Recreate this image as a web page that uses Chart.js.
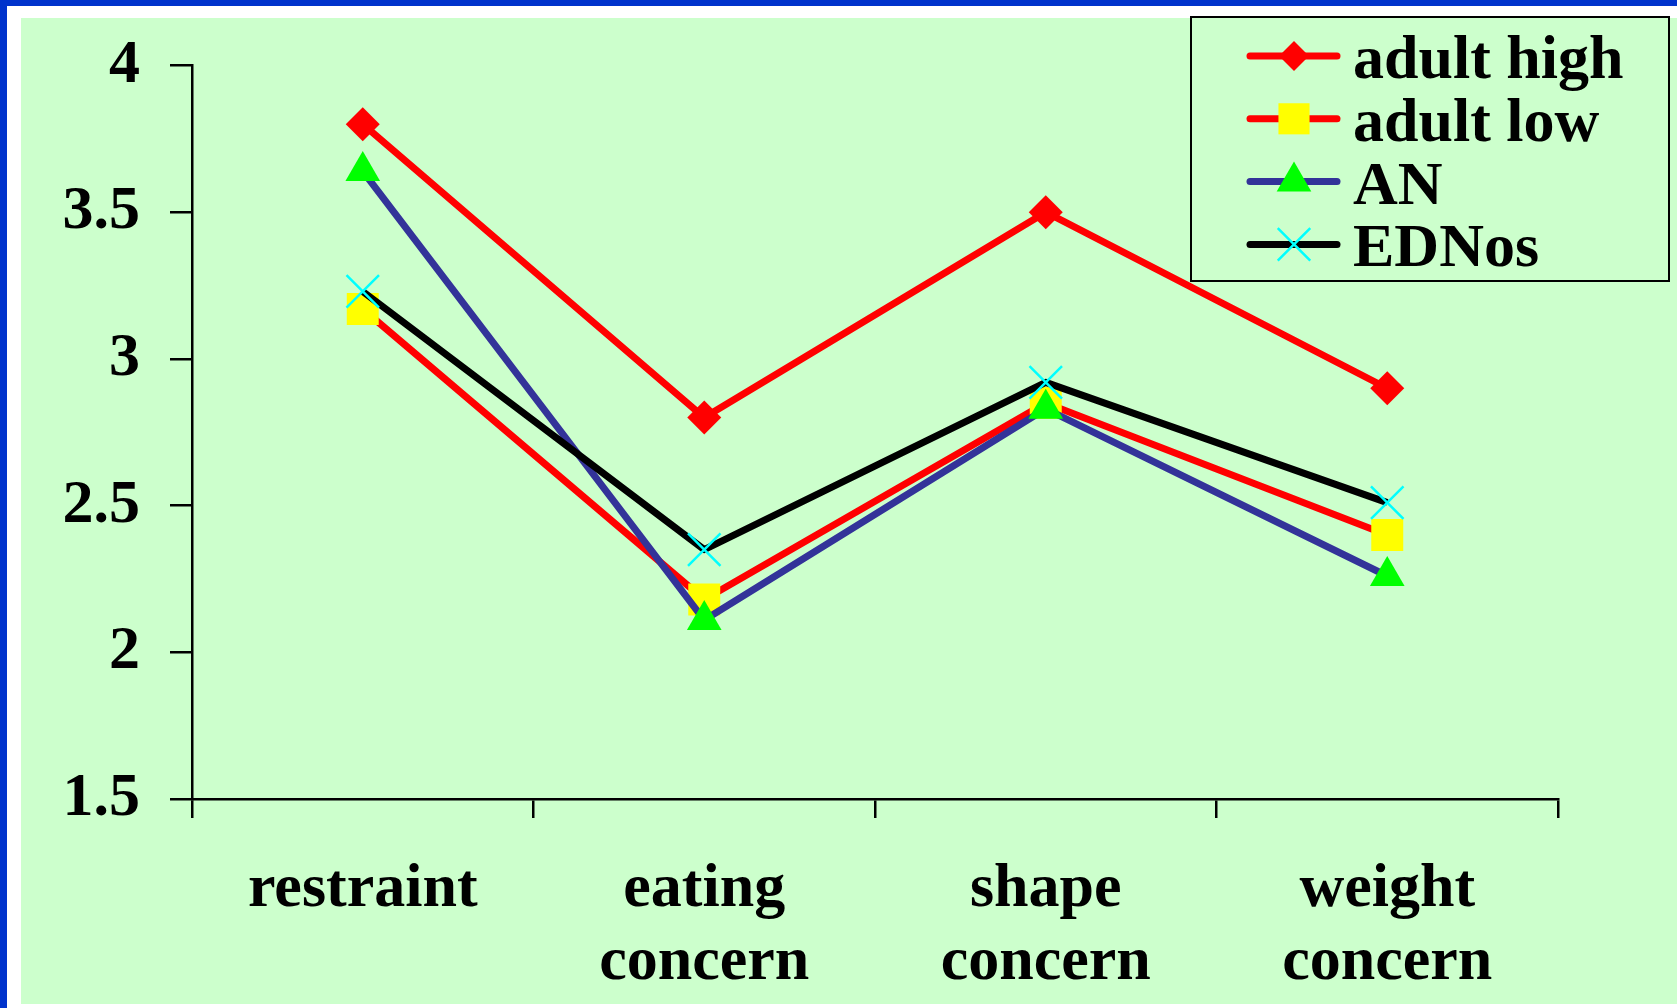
<!DOCTYPE html>
<html>
<head>
<meta charset="utf-8">
<script src="https://cdn.jsdelivr.net/npm/chart.js@4.4.0/dist/chart.umd.min.js"></script>
<style>
  html, body { margin: 0; padding: 0; }
  body { width: 1677px; height: 1008px; background: #0033cc; position: relative; overflow: hidden; }
  #frame { position: absolute; left: 7px; top: 6px; right: 0; bottom: 0; background: #ffffff; }
  #panel { position: absolute; left: 21px; top: 18px; right: 0; bottom: 4px; background: #ccffcc; }
  #wrap  { position: absolute; left: 0; top: 0; width: 1677px; height: 1008px; }
</style>
</head>
<body>
<div id="frame"></div>
<div id="panel"></div>
<div id="wrap"><canvas id="chart" width="1677" height="1008"></canvas></div>
<script>
// EDE-Q subscale means by group

const CATEGORIES = ['restraint', ['eating', 'concern'], ['shape', 'concern'], ['weight', 'concern']];
const SERIES_NAMES = ['adult high', 'adult low', 'AN', 'EDNos'];

const ADULT_HIGH = [3.80, 2.80, 3.50, 2.90];
const ADULT_LOW  = [3.17, 2.18, 2.85, 2.40];
const AN_VALUES  = [3.64, 2.11, 2.83, 2.26];
const EDNOS      = [3.23, 2.35, 2.92, 2.51];

const Y_MIN = 1.5;
const Y_MAX = 4;
const Y_STEP = 0.5;

const FAMILY = '"Liberation Serif", "Times New Roman", serif';
const FONT = 'bold 62px ' + FAMILY;
const X_FONT = { family: FAMILY, size: 62, weight: 'bold', lineHeight: 73 / 62 };
const Y_FONT = { family: FAMILY, size: 62, weight: 'bold', lineHeight: 71 / 62 };

// ── Datasets ─────────────────────────────────────────────────────────────────
// lower `order` draws on top, so the last series (EDNos) sits above the rest

function makeSeries(label, data, line, marker, style, radius, order, legendRadius) {
  const isCross = style === 'crossRot';
  return {
    label,
    data,
    borderColor:          line,
    backgroundColor:      line,
    borderWidth:          7,
    borderJoinStyle:      'round',
    tension:              0,
    fill:                 false,
    pointStyle:           style,
    pointRadius:          radius,
    pointHoverRadius:     radius,
    pointBackgroundColor: marker,
    pointBorderColor:     marker,
    pointBorderWidth:     isCross ? 2.5 : 0,
    order,
    legendRadius
  };
}

const datasets = [
  makeSeries(SERIES_NAMES[0], ADULT_HIGH, '#ff0000', '#ff0000', 'rectRot',  17,   4, 15),
  makeSeries(SERIES_NAMES[1], ADULT_LOW,  '#ff0000', '#ffff00', 'rect',     22.6, 3, 22),
  makeSeries(SERIES_NAMES[2], AN_VALUES,  '#333399', '#00ff00', 'triangle', 20,   2, 20),
  makeSeries(SERIES_NAMES[3], EDNOS,      '#000000', '#00ffff', 'crossRot', 23,   1, 23)
];

// ── Boxed legend (line + marker, like the spreadsheet original) ─────────────

const boxLegend = {
  id: 'boxLegend',
  afterDraw(chart) {
    const ctx = chart.ctx;
    ctx.save();
    ctx.fillStyle = '#ccffcc';
    ctx.fillRect(1191, 17, 478, 264);
    ctx.strokeStyle = '#000';
    ctx.lineWidth = 2;
    ctx.strokeRect(1191, 17, 478, 264);

    chart.data.datasets.forEach((ds, i) => {
      const y = 56 + i * 62.8;

      ctx.beginPath();
      ctx.lineCap = 'round';
      ctx.strokeStyle = ds.borderColor;
      ctx.lineWidth = 7;
      ctx.moveTo(1250, y);
      ctx.lineTo(1337, y);
      ctx.stroke();

      ctx.fillStyle = ds.pointBackgroundColor;
      ctx.strokeStyle = ds.pointBorderColor;
      ctx.lineWidth = ds.pointBorderWidth;
      ctx.lineCap = 'butt';
      Chart.helpers.drawPoint(ctx, {
        pointStyle:  ds.pointStyle,
        radius:      ds.legendRadius,
        borderWidth: ds.pointBorderWidth,
        rotation:    0
      }, 1294, y);

      ctx.fillStyle = '#000';
      ctx.font = FONT;
      ctx.textAlign = 'left';
      ctx.textBaseline = 'middle';
      ctx.fillText(ds.label, 1353, y + 6);
    });
    ctx.restore();
  }
};

// ── Chart ────────────────────────────────────────────────────────────────────

new Chart(document.getElementById('chart').getContext('2d'), {
  type: 'line',
  data: { labels: CATEGORIES, datasets },
  plugins: [boxLegend],
  options: {
    responsive: false,
    animation: false,
    layout: { padding: { left: 0, top: 64, right: 119, bottom: 0 } },
    plugins: {
      legend:  { display: false },
      tooltip: { enabled: false }
    },
    scales: {
      x: {
        type: 'category',
        offset: true,
        grid: {
          offset: true,
          drawOnChartArea: false,
          drawTicks: true,
          tickLength: 19,
          color: '#000',
          lineWidth: 2.5
        },
        border: { display: true, color: '#000', width: 2.5 },
        ticks: {
          color: '#000',
          font: X_FONT,
          padding: 35,
          maxRotation: 0,
          autoSkip: false
        },
        afterFit: s => { s.height = 209; }
      },
      y: {
        min: Y_MIN,
        max: Y_MAX,
        grid: {
          drawOnChartArea: false,
          drawTicks: true,
          tickLength: 22,
          color: '#000',
          lineWidth: 2.5
        },
        border: { display: true, color: '#000', width: 2.5 },
        ticks: {
          stepSize: Y_STEP,
          color: '#000',
          font: Y_FONT,
          padding: 30,
          callback: v => String(v)
        },
        afterFit: s => { s.width = 192; }
      }
    }
  }
});
</script>
</body>
</html>
